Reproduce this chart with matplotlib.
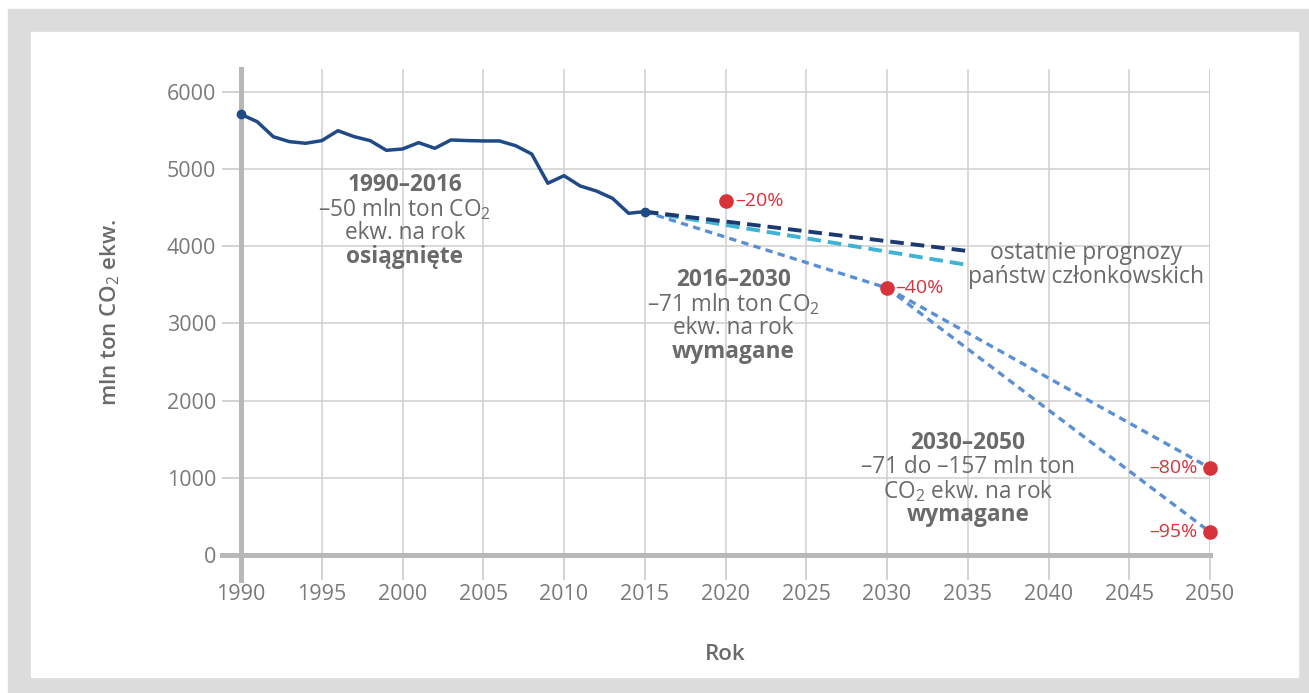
import matplotlib.pyplot as plt
from matplotlib.patches import Rectangle

plt.rcParams['font.family'] = ['Open Sans', 'DejaVu Sans']
plt.rcParams['mathtext.fontset'] = 'custom'
plt.rcParams['mathtext.rm'] = 'Open Sans'

# historical emissions, mln t CO2 eq.
years = list(range(1990, 2016))
emissions = [5710, 5615, 5420, 5356, 5335, 5369, 5498, 5421, 5369, 5244,
             5261, 5343, 5270, 5378, 5370, 5365, 5365, 5304, 5196, 4817,
             4915, 4782, 4717, 4622, 4428, 4449]

# member state projections
proj_years = [2015, 2035]
proj_dark = [4449, 3939]
proj_cyan = [4449, 3758]

# required paths
path_years_a = [2015, 2030]
path_a = [4449, 3460]
path_years_b = [2030, 2050]
path_80 = [3460, 1127]
path_95 = [3460, 298]

# target points
target_years = [2020, 2030, 2050, 2050]
target_vals = [4587, 3460, 1127, 298]
target_labels = ['–20%', '–40%', '–80%', '–95%']

gray_txt = '#6a6a6a'
red = '#d7333b'

fig = plt.figure(figsize=(13.09, 6.93), dpi=100)
W, H = 1309, 693
fig.patches.append(Rectangle((8 / W, 0), 1, 1 - 9 / H, transform=fig.transFigure,
                             color='#dcdcdc', zorder=-10))
fig.patches.append(Rectangle((31 / W, 16 / H), (1298 - 31) / W, (677 - 32) / H,
                             transform=fig.transFigure, color='white', zorder=-9))

ax = fig.add_axes([241 / W, 1 - 555 / H, (1210 - 241) / W, (555 - 68.8) / H])
ax.set_facecolor('none')
ax.set_xlim(1990, 2050)
ax.set_ylim(0, 6300)
ax.set_xticks(range(1990, 2051, 5))
ax.set_yticks(range(0, 6001, 1000))
ax.grid(True, color='#d0d0d0', lw=1.1, zorder=0)
for s in ['top', 'right', 'left', 'bottom']:
    ax.spines[s].set_visible(False)
ax.axvline(2050, color='#d0d0d0', lw=1.1, zorder=0)
ax.tick_params(axis='x', length=18, width=1.1, color='#c8c8c8', labelcolor='#7a7a7a',
               labelsize=15.5, pad=3)
ax.tick_params(axis='y', length=14, width=1.1, color='#c8c8c8', labelcolor='#7a7a7a',
               labelsize=15.5, pad=4)

# thick axis lines
ax.axhline(0, xmin=-0.02, xmax=1, color='#b8b8b8', lw=3.6, clip_on=False, zorder=2)
ax.axvline(1990, ymin=-0.052, ymax=1, color='#b8b8b8', lw=3.6, clip_on=False, zorder=2)

# projections
ax.plot(path_years_a, path_a, color='#5b8fd4', lw=2.4, dashes=(2.2, 1.6), zorder=3)
ax.plot(path_years_b, path_80, color='#5b8fd4', lw=2.4, dashes=(2.2, 1.6), zorder=3)
ax.plot(path_years_b, path_95, color='#5b8fd4', lw=2.4, dashes=(2.2, 1.6), zorder=3)
ax.plot(proj_years, proj_cyan, color='#3fb3d3', lw=2.8, dashes=(3.5, 1.8), zorder=3)
ax.plot(proj_years, proj_dark, color='#1c3a70', lw=2.8, dashes=(3.5, 1.8), zorder=4)

# history
ax.plot(years, emissions, color='#1f4a85', lw=2.5, zorder=5, solid_joinstyle='round')
ax.plot([years[0], years[-1]], [emissions[0], emissions[-1]], 'o', color='#1f4a85',
        ms=6, zorder=6, clip_on=False)

# targets
ax.plot(target_years, target_vals, 'o', color=red, ms=9.5, zorder=7, clip_on=False)
offsets = [(7, 0, 'left'), (6, 0, 'left'), (-9, 0, 'right'), (-9, 0, 'right')]
for x, y, lab, (dx, dy, ha) in zip(target_years, target_vals, target_labels, offsets):
    ax.annotate(lab, (x, y), xytext=(dx, dy), textcoords='offset points',
                ha=ha, va='center', color=red, fontsize=14)


def text_block(x, y, lines, size=16.3):
    for i, (txt, bold) in enumerate(lines):
        ax.annotate(txt, (x, y), xytext=(0, -17.3 * i), textcoords='offset points',
                    ha='center', va='center', color=gray_txt, fontsize=size,
                    fontweight='bold' if bold else 'normal')


text_block(2000.15, 4795, [('1990–2016', True), ('–50 mln ton CO$_2$', False),
                           ('ekw. na rok', False), ('osiągnięte', True)])
text_block(2020.5, 3563, [('2016–2030', True), ('–71 mln ton CO$_2$', False),
                          ('ekw. na rok', False), ('wymagane', True)])
text_block(2035.0, 1451, [('2030–2050', True), ('–71 do –157 mln ton', False),
                          ('CO$_2$ ekw. na rok', False), ('wymagane', True)])
text_block(2042.3, 3913, [('ostatnie prognozy', False), ('państw członkowskich', False)],
           size=16.5)

ax.set_xlabel('Rok', fontsize=16, color=gray_txt, fontweight='semibold', labelpad=28)
fig.text(110 / W, 1 - 312 / H, 'mln ton CO$_2$ ekw.', rotation=90, ha='center',
         va='center', fontsize=16, color=gray_txt, fontweight='semibold')

fig.savefig('out.png', dpi=100)
